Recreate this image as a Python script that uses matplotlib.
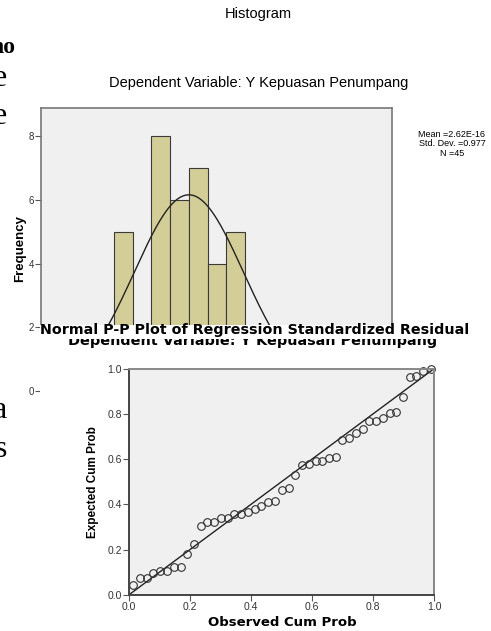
import numpy as np
import matplotlib
matplotlib.use("Agg")
import matplotlib.pyplot as plt
from matplotlib.patches import Rectangle

plt.rcParams['font.family'] = ['Liberation Sans', 'DejaVu Sans']

W, H = 491, 631

# histogram of standardized residuals (only the visible bins)
bin_left = [-1.34, -1.005, -0.67, -0.335, 0.0, 0.335, 0.67]
bin_width = 0.335
freq = [5, 1, 8, 6, 7, 4, 5]
res_mean = 2.62e-16
res_sd = 0.977
n_obs = 45
hist_ticks = [0, 2, 4, 6, 8]

# normal P-P plot
obs_cum = [0.013, 0.036, 0.059, 0.081, 0.104, 0.126, 0.148, 0.170, 0.192, 0.214,
           0.236, 0.258, 0.280, 0.302, 0.324, 0.346, 0.368, 0.391, 0.413, 0.434,
           0.457, 0.479, 0.501, 0.524, 0.546, 0.568, 0.590, 0.612, 0.634, 0.656,
           0.679, 0.700, 0.722, 0.745, 0.766, 0.788, 0.811, 0.833, 0.855, 0.877,
           0.900, 0.920, 0.942, 0.965, 0.990]
exp_cum = [0.044, 0.077, 0.077, 0.098, 0.107, 0.108, 0.125, 0.125, 0.183, 0.225,
           0.306, 0.323, 0.323, 0.340, 0.340, 0.360, 0.360, 0.368, 0.378, 0.393,
           0.411, 0.414, 0.463, 0.473, 0.532, 0.573, 0.580, 0.591, 0.594, 0.605,
           0.610, 0.685, 0.694, 0.717, 0.735, 0.769, 0.769, 0.783, 0.803, 0.810,
           0.874, 0.965, 0.968, 0.990, 0.998]
pp_ticks = [0.0, 0.2, 0.4, 0.6, 0.8, 1.0]


def box(l, t, r, b):
    # pixel box -> figure fraction
    return [l / W, 1 - b / H, (r - l) / W, (b - t) / H]


def fx(x):
    return x / W


def fy(y):
    return 1 - y / H


fig = plt.figure(figsize=(W / 100, H / 100), dpi=100)

# ---- histogram (lower part hidden under the P-P plot) ----
ax1 = fig.add_axes(box(41, 108, 392, 391))
ax1.set_zorder(0)
ax1.set_facecolor('#F0F0F0')
ax1.bar(bin_left, freq, width=bin_width, align='edge', color='#D3CE97',
        edgecolor='#3A3A3A', linewidth=0.8)
xs = np.linspace(-2.65, 3.64, 400)
curve = n_obs * bin_width * np.exp(-0.5 * ((xs - res_mean) / res_sd) ** 2) / (res_sd * np.sqrt(2 * np.pi))
ax1.plot(xs, curve, color='#222222', lw=1)
ax1.set_xlim(-2.65, 3.64)
ax1.set_ylim(0, 8.88)
ax1.set_xticks([])
ax1.set_yticks(hist_ticks)
ax1.tick_params(axis='y', length=4, width=0.8, color='#555555', labelsize=7,
                labelcolor='#333333', pad=1)
for s in ax1.spines.values():
    s.set_color('#777777')
    s.set_linewidth(1.2)

fig.text(fx(258), fy(14), 'Histogram', ha='center', va='center', size=10.5)
fig.text(fx(258.5), fy(83), 'Dependent Variable: Y Kepuasan Penumpang',
         ha='center', va='center', size=10.5)
fig.text(fx(452), fy(144), 'Mean =2.62E-16\nStd. Dev. =0.977\nN =45',
         ha='center', va='center', size=6.5, linespacing=1.05)
fig.text(fx(20), fy(249), 'Frequency', ha='center', va='center', rotation=90,
         size=9.5, weight='bold')

# serif fragments of the surrounding document at the left edge
serif = ['Liberation Serif', 'DejaVu Serif']
fig.text(fx(15), fy(53), 'no', ha='right', va='baseline', size=17, weight='bold', family=serif)
fig.text(fx(7), fy(86), 'e', ha='right', va='baseline', size=23, family=serif)
fig.text(fx(7), fy(124), 'e', ha='right', va='baseline', size=23, family=serif)
fig.text(fx(7), fy(418), 'a', ha='right', va='baseline', size=23, family=serif)
fig.text(fx(7), fy(457), 's', ha='right', va='baseline', size=23, family=serif)

# white panel of the P-P plot image
fig.add_artist(Rectangle((fx(40), 0), 1, (H - 325) / H, transform=fig.transFigure,
                         facecolor='white', edgecolor='none', zorder=1))

# ---- normal P-P plot ----
ax2 = fig.add_axes(box(128.7, 368.7, 434, 595))
ax2.set_zorder(2)
ax2.set_facecolor('#F0F0F0')
ax2.plot([0, 1], [0, 1], color='#222222', lw=1)
ax2.plot(obs_cum, exp_cum, 'o', ms=5.5, mfc='none', mec='#333333', mew=0.8, clip_on=False)
ax2.set_xlim(0, 1)
ax2.set_ylim(0, 1)
ax2.set_xticks(pp_ticks)
ax2.set_yticks(pp_ticks)
ax2.set_xticklabels(['%.1f' % t for t in pp_ticks])
ax2.set_yticklabels(['%.1f' % t for t in pp_ticks])
ax2.tick_params(length=4, width=0.8, color='#555555', labelsize=7.5,
                labelcolor='#333333', pad=1)
for k, s in ax2.spines.items():
    s.set_color('#444444' if k in ('left', 'bottom') else '#888888')
    s.set_linewidth(1.4)

# the P-P image is stretched sideways, so its texts use the wider DejaVu Sans
wide = ['DejaVu Sans']
fig.text(fx(253), fy(345), 'Dependent Variable: Y Kepuasan Penumpang',
         ha='center', va='baseline', size=10.4, weight='bold', family=wide, zorder=3)
fig.add_artist(Rectangle((fx(40), fy(339)), 1, 14 / H, transform=fig.transFigure,
                         facecolor='white', edgecolor='none', zorder=4))
fig.text(fx(254.5), fy(334), 'Normal P-P Plot of Regression Standardized Residual',
         ha='center', va='baseline', size=10.3, weight='bold', family=wide, zorder=5)
fig.text(fx(282), fy(623), 'Observed Cum Prob', ha='center', va='center',
         size=9.5, weight='bold', family=wide)
fig.text(fx(93), fy(482), 'Expected Cum Prob', ha='center', va='center',
         rotation=90, size=8.5, weight='bold')

fig.savefig('out.png', dpi=100)
